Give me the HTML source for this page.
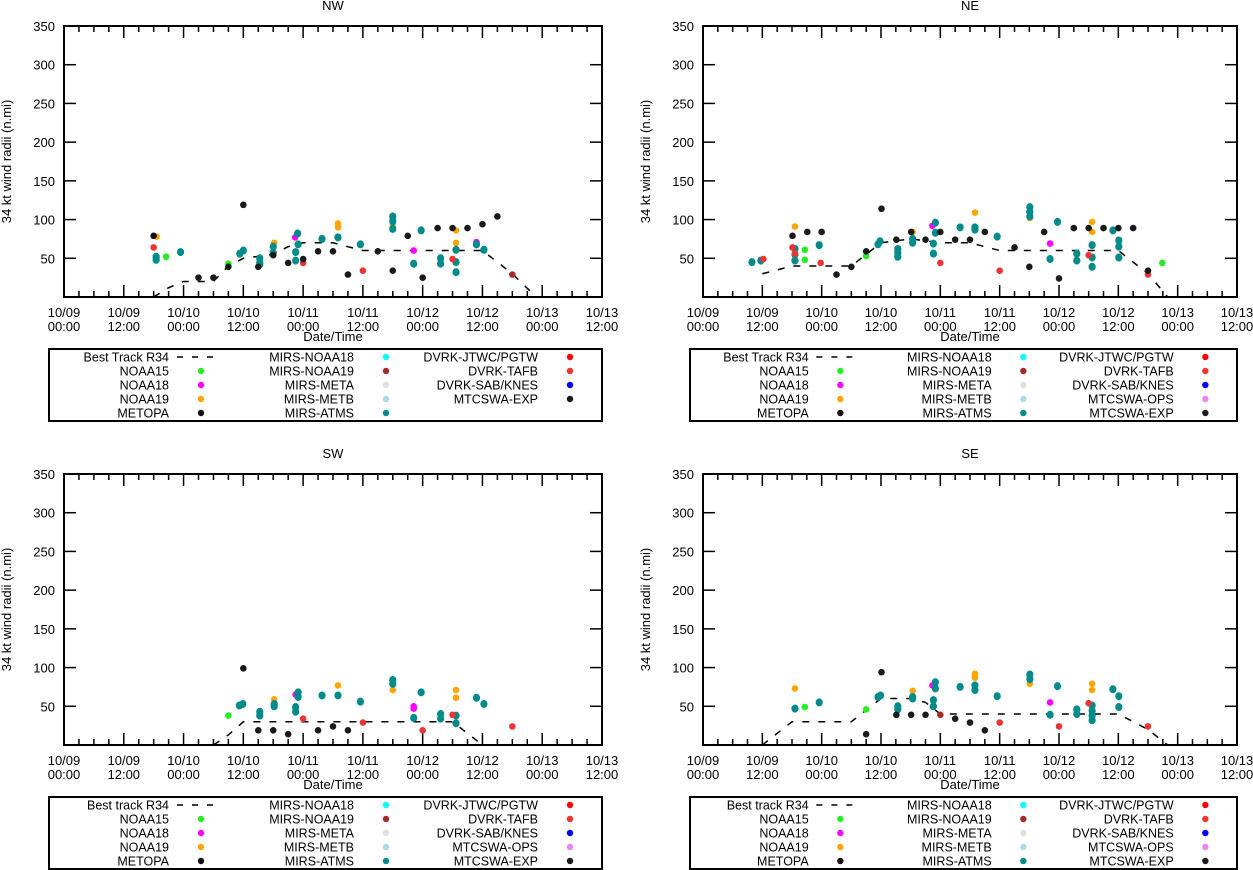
<!DOCTYPE html>
<html><head><meta charset="utf-8"><style>
html,body{margin:0;padding:0;background:#fff;}
svg{display:block;font-family:"Liberation Sans",sans-serif;}
</style></head><body>
<svg id="chart" width="1253" height="870" viewBox="0 0 1253 870" xmlns="http://www.w3.org/2000/svg"></svg>
<script>
// ---- data (hours since 10/09 00:00, radius n.mi) ----
const xTickLabels = [["10/09","00:00"],["10/09","12:00"],["10/10","00:00"],["10/10","12:00"],["10/11","00:00"],["10/11","12:00"],["10/12","00:00"],["10/12","12:00"],["10/13","00:00"],["10/13","12:00"]];
const yTicks = [50,100,150,200,250,300,350];

const nwBtHours = [18,21,24,30,33,36,42,45,48,54,60,84,90,94];
const nwBtValues = [0,12,20,20,40,50,55,65,70,70,60,60,30,5];
const nwHours = [18,18.6,18,18.5,18.5,20.5,23.4,27,30,33,33,35.3,36,36,39,39.3,39.3,39.3,42.2,42,42,42,45,46.4,46.9,47,46.5,46.5,48,48,51,51.8,54,55,55,55,57,59.5,60,63,66,66,66,66,66,69,70.2,70.2,71.7,72,75,75.6,75.6,78,78.7,78.7,78.7,78.7,78.7,78,81,82.8,82.8,84,84.3,87,90];
const nwValues = [79,78,64,52,48,52,58,25,25,43,39,56,60,119,39,50,45,42,70,65,57,54,44,77,82,68,58,47,44,49,59,75,59,95,90,77,29,68,34,59,104,98,88,94,34,79,60,43,86,25,89,50,43,89,86,70,61,45,32,49,89,71,68,94,61,104,29];
const nwSource = "KORTTGTXXGXTTXXTTTOTTXXMTTTTRXXTXOOTXTRXTTTOXXMTTXXTTXOOTTTRXMTXTXB";

const neBtHours = [12,18,24,30,33,36,42,48,54,60,84,90,94];
const neBtValues = [30,40,40,40,55,70,75,70,70,60,60,30,0];
const neHours = [9.9,11.7,12.2,18.1,18.1,18.6,18.6,18.6,18.6,18.6,20.6,20.6,21.1,23.5,24,23.8,27,30,33,33,35.4,35.8,36.1,39.1,39.4,39.4,39.4,42.1,42.4,42.4,42.4,45,46.4,47,47,46.6,46.6,48,48,51,52,54,55,55,55,57,59.5,60,63,66.1,66.1,66.1,66.1,66,69,70.2,70.2,71.7,72,75,75.6,75.6,78,78,78.7,78.7,78.7,78.7,78.7,81,82.9,84,84.1,84.1,84.1,87,90,90,92.9];
const neValues = [45,47,49,79,64,91,56,62,55,47,61,48,84,67,84,44,29,39,59,53,68,72,114,74,62,57,52,84,84,75,70,74,92,96,83,69,56,84,44,74,90,74,109,90,87,84,78,34,64,102,116,110,104,39,84,69,49,97,24,89,56,47,89,54,97,84,67,51,39,89,86,89,73,65,51,89,29,34,44];
const neSource = "TTRXRORTTTGGXTXRXXXGTTXXTTTXOTTXMTTTTXRXTXOTTXTRXOTTTXXMTTXXTTXROOTTTXTXTTTXRXG";

const swBtHours = [30,33,36,78,81,84];
const swBtValues = [0,13,30,30,15,0];
const swHours = [33,35.2,35.9,36,39.3,39.3,39,42.2,42.2,42.2,42,45,46.5,47,47,46.5,46.5,48,51,51.8,54,55,55,57,59.5,60,66,66,66,70.2,70.2,70.2,71.7,72,75.6,75.6,78,78.7,78.7,78.7,78.7,82.8,84.3,90];
const swValues = [38,51,53,99,43,38,19,59,53,50,19,14,65,68,62,49,43,34,19,64,24,77,64,19,56,29,71,84,79,50,47,35,68,19,40,34,39,71,61,38,28,61,53,24];
const swSource = "GTTXTTXOTTXXMTTTTRXTXOTXTROTTMMTTRTTROOTTTTR";

const seBtHours = [12,15,18,30,36,42,45,48,84,90,94];
const seBtValues = [0,15,30,30,60,60,55,40,40,20,0];
const seHours = [18.6,18.6,20.6,23.5,33,33,35.4,35.9,36.1,39.1,39.4,39.4,42.1,42.4,42.4,42.4,45,46.4,47,47,46.6,46.6,48,51,52,54,55,55,55,55,57,59.5,60,66.1,66.1,66.1,70.2,70.2,71.7,72,75.6,75.6,78,78.7,78.7,78.7,78.7,78.7,78.7,82.9,84.1,84.1,90];
const seValues = [73,47,49,55,14,46,62,64,94,39,50,46,39,70,62,60,39,77,81,73,58,50,39,34,75,29,92,87,77,71,19,63,29,79,91,85,55,39,76,24,46,40,54,79,71,51,44,38,32,72,63,49,24];
const seSource = "OTGTXGTTXXTTXOTTXMTTTTBXTXOOTTXTROTTMTTRTTROOTTTTTTTR";

const sourceOrder = "GMOKBTRX";
const sourceColors = {G:"#22ee22",M:"#ff00ff",O:"#ffa500",K:"#111111",B:"#a52a2a",T:"#008b8b",R:"#ee3333",X:"#1a1a1a"};
const legendCol1 = ["NOAA15","NOAA18","NOAA19","METOPA"];
const legendCol1Colors = ["#22ee22","#ff00ff","#ffa500","#111111"];
const legendCol2 = ["MIRS-NOAA18","MIRS-NOAA19","MIRS-META","MIRS-METB","MIRS-ATMS"];
const legendCol2Colors = ["#00ffff","#a52a2a","#e0e0e0","#add8e6","#008b8b"];
const legendCol3 = ["DVRK-JTWC/PGTW","DVRK-TAFB","DVRK-SAB/KNES","MTCSWA-OPS","MTCSWA-EXP"];
const legendCol3Colors = ["#ff0000","#ee3333","#0000ff","#ee82ee","#1a1a1a"];

const svg = document.getElementById('chart');
const NS = "http://www.w3.org/2000/svg";
function mk(tag, attrs, parent){ const e=document.createElementNS(NS,tag); for(const k in attrs) e.setAttribute(k,attrs[k]); (parent||svg).appendChild(e); return e; }
function txt(s, attrs, parent){ const e=mk('text',attrs,parent); e.textContent=s; return e; }

const panels = [
 {name:"NW", x0:64, x1:602, y0:26, y1:297, title:"NW", bt:"Best Track R34", bh:nwBtHours, bv:nwBtValues, h:nwHours, v:nwValues, s:nwSource, ly:349, lx0:49, lx1:602, ops:false},
 {name:"NE", x0:703, x1:1237, y0:26, y1:297, title:"NE", bt:"Best Track R34", bh:neBtHours, bv:neBtValues, h:neHours, v:neValues, s:neSource, ly:349, lx0:690, lx1:1237, ops:true},
 {name:"SW", x0:64, x1:602, y0:474, y1:745, title:"SW", bt:"Best track R34", bh:swBtHours, bv:swBtValues, h:swHours, v:swValues, s:swSource, ly:797, lx0:49, lx1:602, ops:true},
 {name:"SE", x0:703, x1:1237, y0:474, y1:745, title:"SE", bt:"Best track R34", bh:seBtHours, bv:seBtValues, h:seHours, v:seValues, s:seSource, ly:797, lx0:690, lx1:1237, ops:true}
];

panels.forEach(p=>{
  const id = p.name.toLowerCase();
  const g = mk('g',{});
  
  
  const xs = h => p.x0 + (h/108)*(p.x1-p.x0);
  const ys = v => p.y1 - (v/350)*(p.y1-p.y0);
  const t = txt(p.title,{x:(p.x0+p.x1)/2,y:p.y0-16,'text-anchor':'middle','font-size':13},g);
  
  
  for(let h=0; h<=108; h+=3){
    const x=xs(h), L=(h%12===0)?12:6;
    mk('line',{x1:x,x2:x,y1:p.y1,y2:p.y1-L,stroke:'#000','stroke-width':1.5},g);
    mk('line',{x1:x,x2:x,y1:p.y0,y2:p.y0+L,stroke:'#000','stroke-width':1.5},g);
  }
  xTickLabels.forEach((lab,i)=>{
    const x=xs(i*12);
    const a=txt(lab[0],{x:x,y:p.y1+20,'text-anchor':'middle','font-size':13},g);
    
    
    const b=txt(lab[1],{x:x,y:p.y1+34,'text-anchor':'middle','font-size':13},g);
    
    
  });
  yTicks.forEach(v=>{
    const y=ys(v);
    mk('line',{x1:p.x0,x2:p.x0+12,y1:y,y2:y,stroke:'#000','stroke-width':1.5},g);
    mk('line',{x1:p.x1,x2:p.x1-12,y1:y,y2:y,stroke:'#000','stroke-width':1.5},g);
    const l=txt(String(v),{x:p.x0-9,y:y+5,'text-anchor':'end','font-size':13},g);
    
    
  });
  const xt=txt("Date/Time",{x:(p.x0+p.x1)/2,y:p.y1+44,'text-anchor':'middle','font-size':13},g);
  
  
  const cy=(p.y0+p.y1)/2, cx=p.x0-53;
  const yt=txt("34 kt wind radii (n.mi)",{x:cx,y:cy,'text-anchor':'middle','font-size':13,transform:`rotate(-90 ${cx} ${cy})`},g);
  
  
  const pts = p.bh.map((h,i)=>xs(h)+','+ys(p.bv[i])).join(' ');
  const bt = mk('polyline',{points:pts,fill:'none',stroke:'#000','stroke-width':1.5,'stroke-dasharray':'7,9'},g);
  
  
  const idx = p.h.map((_,i)=>i).sort((a,b)=>sourceOrder.indexOf(p.s[a])-sourceOrder.indexOf(p.s[b]));
  idx.forEach(i=>{
    const src=p.s[i];
    const c=mk('ellipse',{cx:xs(p.h[i]),cy:ys(p.v[i]),rx:src==='T'?3.6:3.3,ry:src==='T'?4:3.3,fill:sourceColors[src]},g);
    
    
  });
  const fr=mk('rect',{x:p.x0,y:p.y0,width:p.x1-p.x0,height:p.y1-p.y0,fill:'none',stroke:'#000','stroke-width':2},g);
  
  
  const lg=mk('g',{},g);
  
  
  mk('rect',{x:p.lx0,y:p.ly,width:p.lx1-p.lx0,height:72,fill:'#fff',stroke:'#000','stroke-width':2},lg);
  const rowY=[8,22,36,50,64].map(d=>p.ly+d);
  const sc=(p.lx1-p.lx0)/553;
  const c1t=p.lx0+120*sc, c1d=p.lx0+152*sc, c2t=p.lx0+305*sc, c2d=p.lx0+337*sc, c3t=p.lx0+489*sc, c3d=p.lx0+521*sc;
  const e0=txt(p.bt,{x:c1t,y:rowY[0]+4.5,'text-anchor':'end','font-size':12.5},lg);
  
  
  mk('line',{x1:c1d-24,x2:c1d+16,y1:rowY[0],y2:rowY[0],stroke:'#000','stroke-width':1.5,'stroke-dasharray':'6,9'},lg);
  legendCol1.forEach((s,i)=>{
    const e=txt(s,{x:c1t,y:rowY[i+1]+4.5,'text-anchor':'end','font-size':12.5},lg);
    
    
    mk('circle',{cx:c1d,cy:rowY[i+1],r:3.2,fill:legendCol1Colors[i]},lg);
  });
  legendCol2.forEach((s,i)=>{
    const e=txt(s,{x:c2t,y:rowY[i]+4.5,'text-anchor':'end','font-size':12.5},lg);
    
    
    mk('circle',{cx:c2d,cy:rowY[i],r:3.2,fill:legendCol2Colors[i]},lg);
  });
  let r=0;
  legendCol3.forEach((s,i)=>{
    if(!p.ops && s==="MTCSWA-OPS") return;
    const e=txt(s,{x:c3t,y:rowY[r]+4.5,'text-anchor':'end','font-size':12.5},lg);
    
    
    mk('circle',{cx:c3d,cy:rowY[r],r:3.2,fill:legendCol3Colors[i]},lg);
    r++;
  });
});
</script>
</body></html>
